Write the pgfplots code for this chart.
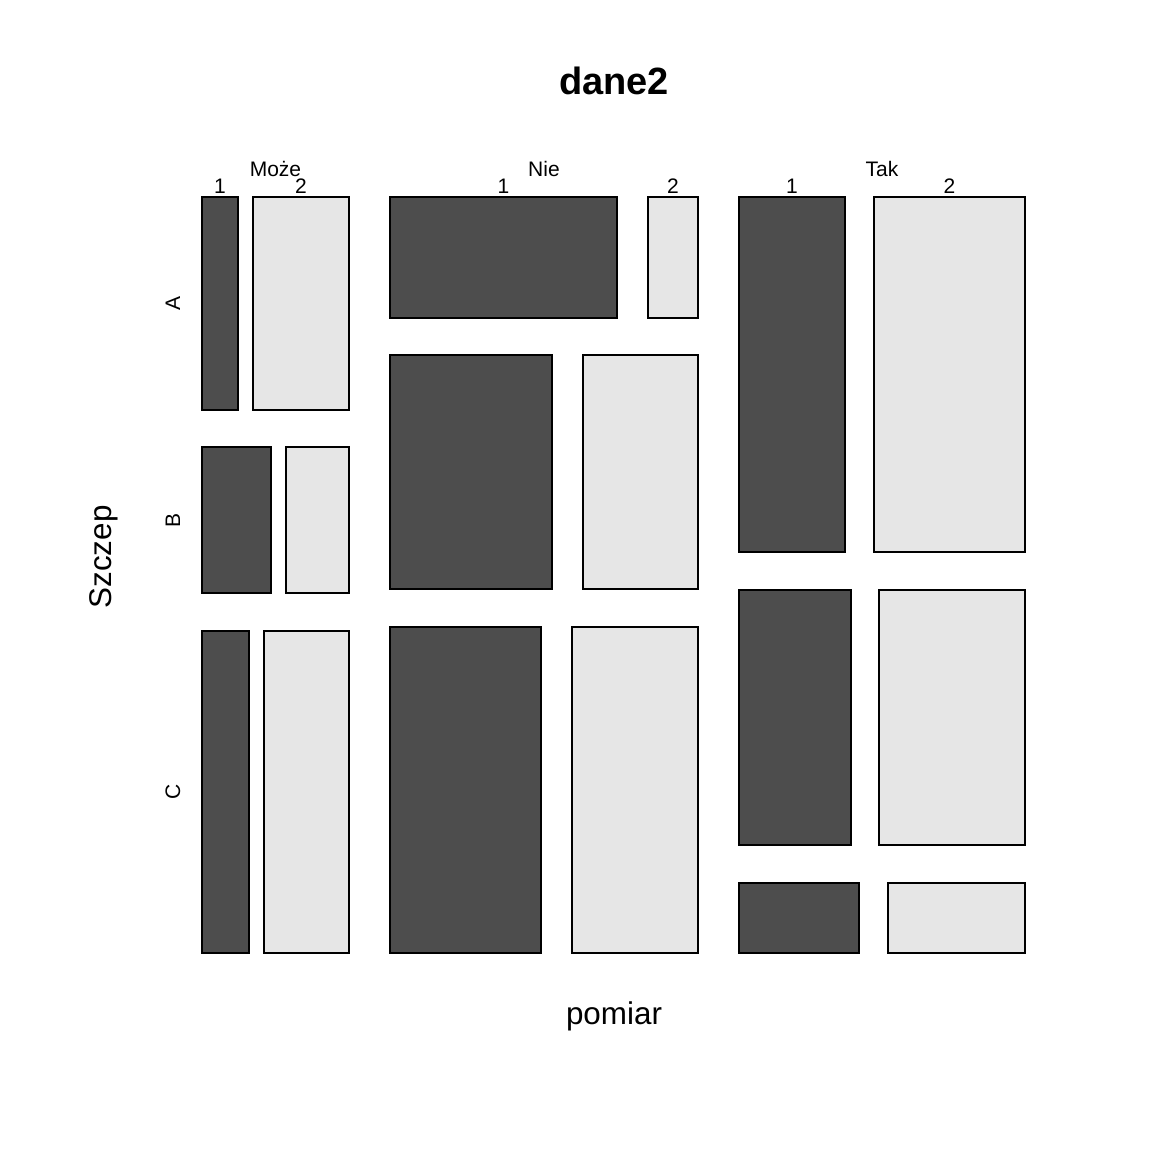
\documentclass[border=0pt]{standalone}
\usepackage{pgfplots}
\pgfplotsset{compat=1.18}
\usepackage{fontspec}
\setmainfont{Liberation Sans}
\definecolor{dark}{HTML}{4D4D4D}
\definecolor{light}{HTML}{E6E6E6}
\newcommand{\rect}[5]{\addplot[#1, draw=black, line width=1pt, mark=none] coordinates {(#2,#4) (#3,#4) (#3,#5) (#2,#5)} -- cycle;}
\begin{document}
\begin{tikzpicture}
\begin{axis}[hide axis, scale only axis, width=576pt, height=576pt,
  xmin=0, xmax=1152, ymin=0, ymax=1152, y dir=reverse, clip=false]
\path (axis cs:0,0) rectangle (axis cs:1152,1152);
% Moze
\rect{fill=dark}{202}{238}{197}{410}
\rect{fill=light}{253}{349}{197}{410}
\rect{fill=dark}{202}{271}{447}{593}
\rect{fill=light}{286}{349}{447}{593}
\rect{fill=dark}{202}{249}{631}{953}
\rect{fill=light}{264}{349}{631}{953}
% Nie
\rect{fill=dark}{390}{617}{197}{318}
\rect{fill=light}{648}{698}{197}{318}
\rect{fill=dark}{390}{552}{355}{589}
\rect{fill=light}{583}{698}{355}{589}
\rect{fill=dark}{390}{541}{627}{953}
\rect{fill=light}{572}{698}{627}{953}
% Tak
\rect{fill=dark}{739}{845}{197}{552}
\rect{fill=light}{874}{1025}{197}{552}
\rect{fill=dark}{739}{851}{590}{845}
\rect{fill=light}{879}{1025}{590}{845}
\rect{fill=dark}{739}{859}{883}{953}
\rect{fill=light}{888}{1025}{883}{953}
% labels
\node[anchor=base, font=\fontsize{19}{22}\selectfont\bfseries] at (axis cs:614,94) {dane2};
\node[anchor=base, font=\fontsize{15.7}{18}\selectfont] at (axis cs:614,1024) {pomiar};
\node[anchor=base, rotate=90, font=\fontsize{15.7}{18}\selectfont] at (axis cs:111,557) {Szczep};
\begin{scope}[every node/.style={font=\fontsize{10.5}{12}\selectfont}]
\node[anchor=base] at (axis cs:275.5,176) {Może};
\node[anchor=base] at (axis cs:544,176) {Nie};
\node[anchor=base] at (axis cs:882,176) {Tak};
\node[anchor=base] at (axis cs:220,193) {1};
\node[anchor=base] at (axis cs:301,193) {2};
\node[anchor=base] at (axis cs:503.5,193) {1};
\node[anchor=base] at (axis cs:673,193) {2};
\node[anchor=base] at (axis cs:792,193) {1};
\node[anchor=base] at (axis cs:949.5,193) {2};
\node[anchor=base, rotate=90] at (axis cs:180,303.5) {A};
\node[anchor=base, rotate=90] at (axis cs:180,520) {B};
\node[anchor=base, rotate=90] at (axis cs:180,792) {C};
\end{scope}
\end{axis}
\end{tikzpicture}
\end{document}
